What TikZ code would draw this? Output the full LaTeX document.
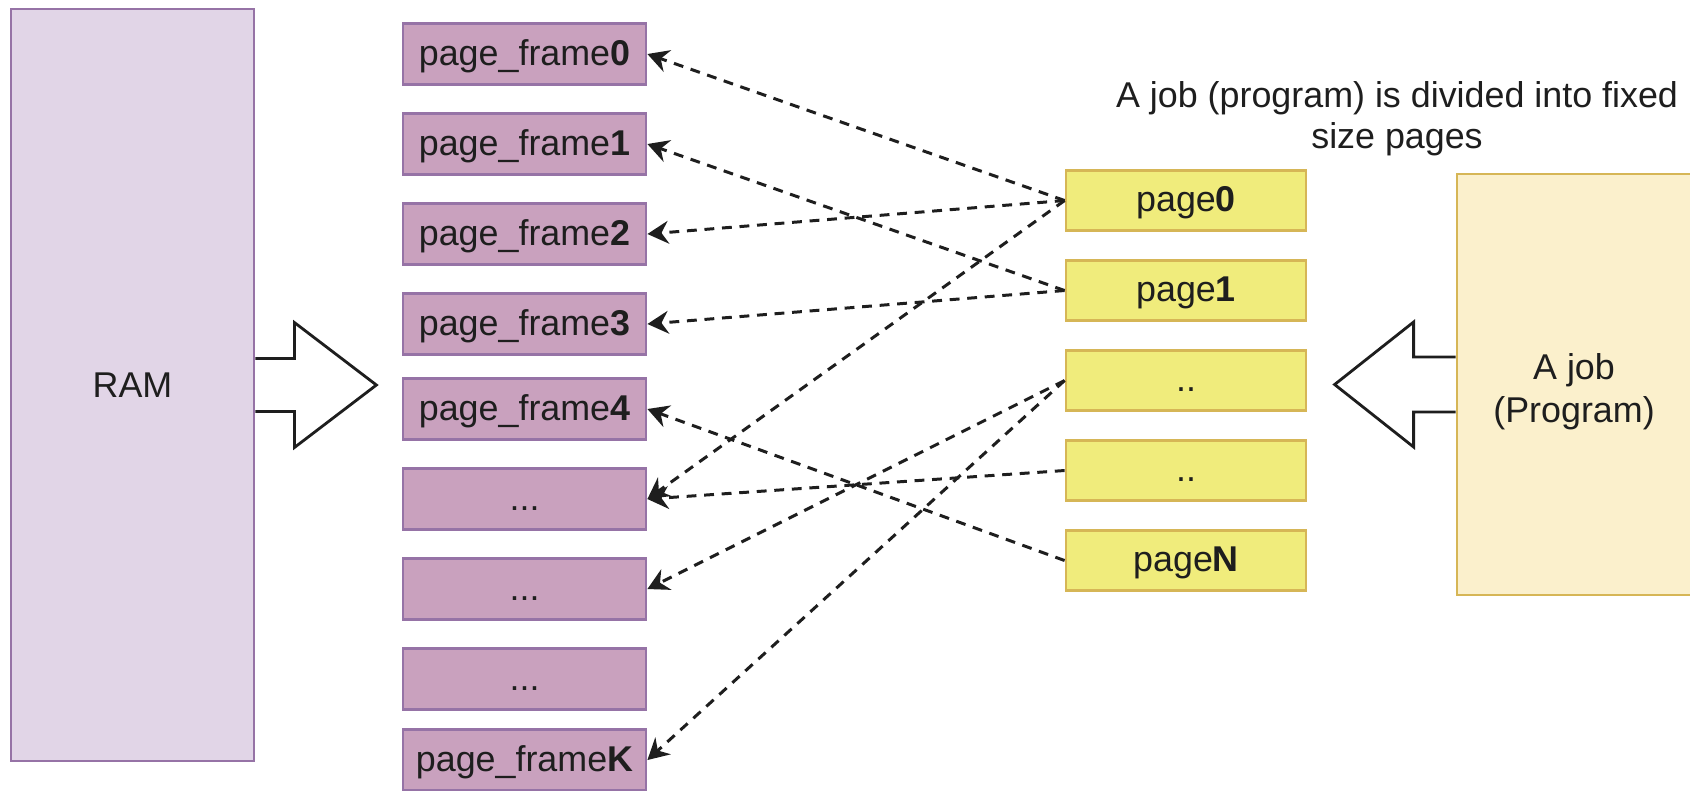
\documentclass[tikz,border=0pt]{standalone}
\usepackage{fontspec}
\setmainfont{Liberation Sans}
\usetikzlibrary{positioning,arrows.meta}
\definecolor{ramFill}{HTML}{E1D5E7}
\definecolor{ramLine}{HTML}{9673A6}
\definecolor{frameFill}{HTML}{C9A1BE}
\definecolor{pageFill}{HTML}{F0EC7C}
\definecolor{pageLine}{HTML}{D6B656}
\definecolor{jobFill}{HTML}{FBF0CC}
\definecolor{inkDark}{HTML}{1E1E1E}
\tikzset{
   memRam/.style = {
         rectangle,
         draw = ramLine,
         fill = ramFill,
         line width = 0.8pt,
         align = center,
         minimum width = 24.3mm,
         minimum height = 75.2mm,
      },
   memFrame/.style = {
         rectangle,
         draw = ramLine,
         fill = frameFill,
         line width = 0.8pt,
         inner sep = 0pt,
         text height = 0.8em,
         text depth = 0.15em,
         minimum width = 24.3mm,
         minimum height = 6.1mm,
      },
   jobPage/.style = {
         rectangle,
         draw = pageLine,
         fill = pageFill,
         line width = 0.8pt,
         inner sep = 0pt,
         text height = 0.8em,
         text depth = 0.15em,
         minimum width = 24mm,
         minimum height = 6mm,
      },
   jobBox/.style = {
         rectangle,
         draw = pageLine,
         fill = jobFill,
         line width = 0.8pt,
         align = center,
         font = \fontsize{10.2}{12.3}\selectfont,
         minimum width = 23.4mm,
         minimum height = 42.1mm,
      },
   blockArrow/.style = {
         draw = inkDark,
         line width = 0.8pt,
         line join = miter,
      },
   memLine/.style = {
         draw = inkDark,
         line width = 0.85pt,
         dash pattern = on 2.8pt off 2.2pt,
         -{Stealth[length=6pt,width=6.5pt,inset=2pt]},
      },
}

\begin{document}
\begin{tikzpicture}[node distance = 9mm, auto, font=\fontsize{10.2}{11.5}\selectfont, text=inkDark]
\useasboundingbox (0,0) rectangle (16.9,-7.9);

% Place nodes
\node [memRam] (ram) at (1.325,-3.85) {RAM};

\node [memFrame] (frame0) at (5.245,-0.54) {page\_frame\textbf{0}};
\node [memFrame, below of = frame0] (frame1) {page\_frame\textbf{1}};
\node [memFrame, below of = frame1] (frame2) {page\_frame\textbf{2}};
\node [memFrame, below of = frame2] (frame3) {page\_frame\textbf{3}};
\node [memFrame, below of = frame3, yshift=0.5mm] (frame4) {page\_frame\textbf{4}};
\node [memFrame, below of = frame4] (frame-dots1) {...};
\node [memFrame, below of = frame-dots1] (frame-dots2) {...};
\node [memFrame, below of = frame-dots2] (frame-dots3) {...};
\node [memFrame, below of = frame-dots3, yshift=0.9mm] (frameK) {page\_frame\textbf{K}};

\node [jobPage] (page0) at (11.86,-2.005) {page\textbf{0}};
\node [jobPage, below of = page0] (page1) {page\textbf{1}};
\node [jobPage, below of = page1] (page-dots1) {..};
\node [jobPage, below of = page-dots1] (page-dots2) {..};
\node [jobPage, below of = page-dots2] (pageN) {page\textbf{N}};

% strut pushes the two lines a bit below the middle
\node [jobBox] (job) at (15.74,-3.845) {\rule{0pt}{11.3pt}A job\\(Program)};

\node [align=center] (caption) at (13.97,-1.188)
	{A job (program) is divided into fixed\\size pages};

% Block arrows
\draw [blockArrow] ([yshift=2.65mm]ram.east) -- ++(3.9mm,0) -- ++(0,3.6mm)
	-- ++(8.2mm,-6.25mm) -- ++(-8.2mm,-6.25mm) -- ++(0,3.6mm) -- ++(-3.9mm,0);
\draw [blockArrow] ([yshift=2.75mm]job.west) -- ++(-4.2mm,0) -- ++(0,3.5mm)
	-- ++(-7.9mm,-6.25mm) -- ++(7.9mm,-6.25mm) -- ++(0,3.5mm) -- ++(4.2mm,0);

% Draw edges
\path [memLine] (page0.west) -- (frame0.east);
\path [memLine] (page1.west) -- (frame1.east);
\path [memLine] (page0.west) -- (frame2.east);
\path [memLine] (page1.west) -- (frame3.east);
\path [memLine] (pageN.west) -- (frame4.east);
\path [memLine] (page0.west) -- (frame-dots1.east);
\path [memLine] (page-dots2.west) -- (frame-dots1.east);
\path [memLine] (page-dots1.west) -- (frame-dots2.east);
\path [memLine] (page-dots1.west) -- (frameK.east);

\end{tikzpicture}
\end{document}
